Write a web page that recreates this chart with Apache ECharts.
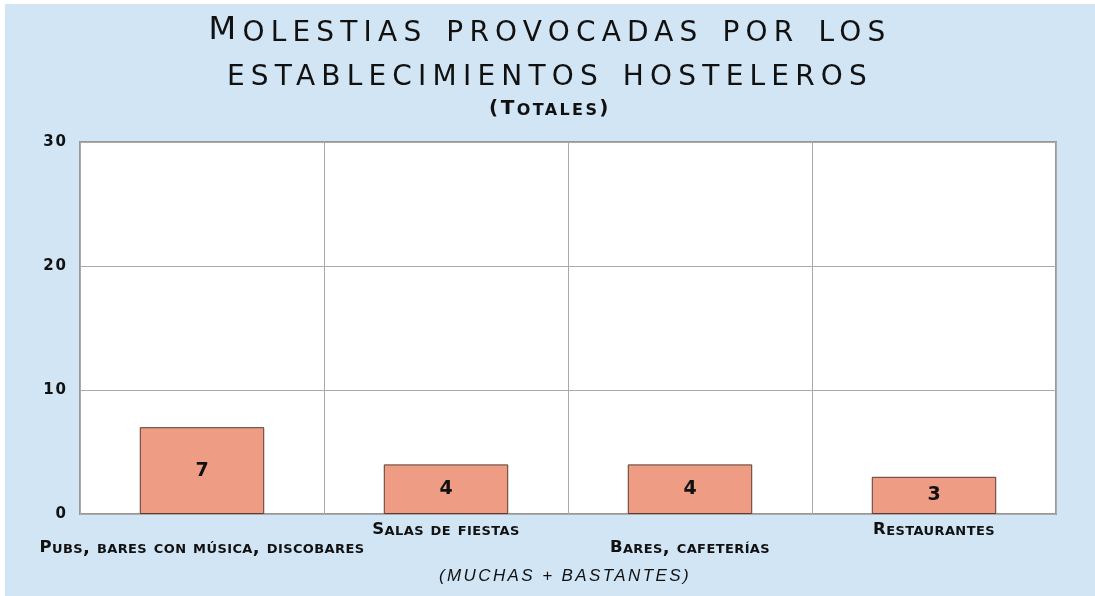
<!DOCTYPE html>
<html><head><meta charset="utf-8">
<script src="https://cdn.jsdelivr.net/npm/echarts@6/dist/echarts.min.js"></script>
<style>
html,body{margin:0;padding:0;background:#fff;}
#c{position:absolute;left:5px;top:4px;width:1090px;height:592px;background:#D2E5F4;}
</style></head><body>
<div id="c"></div>
<script>
var categories = ['Pubs, bares con música, discobares', 'Salas de fiestas', 'Bares, cafeterías', 'Restaurantes'];
var values = [7, 4, 4, 3];
var yTicks = [0, 10, 20, 30];

// Wide lettering (the reference uses a wide engraved small-caps face):
// a family name like "ls6" marks the letter spacing to apply for that text.
(function () {
  var proto = CanvasRenderingContext2D.prototype;
  var desc = Object.getOwnPropertyDescriptor(proto, 'font');
  if (!desc || !('letterSpacing' in proto)) return;
  Object.defineProperty(proto, 'font', {
    configurable: true,
    get: function () { return desc.get.call(this); },
    set: function (v) {
      desc.set.call(this, v);
      var m = /ls(\d+(?:\.\d+)?)/.exec(v);
      this.letterSpacing = m ? m[1] + 'px' : '0px';
    }
  });
})();

function fam(ls, base) { return '"ls' + ls + '", ' + (base || '"DejaVu Sans"'); }
// split a label into its capital initial and small-caps remainder (text unchanged)
function capSplit(s, big, small) {
  return '{' + big + '|' + s.charAt(0) + '}{' + small + '|' + s.slice(1) + '}';
}

var chart = echarts.init(document.getElementById('c'), null, {renderer: 'canvas'});
chart.setOption({
  animation: false,
  backgroundColor: '#D2E5F4',
  title: [
    {text: '{m|M}{s|olestias provocadas por los}\n{s|establecimientos hosteleros}', left: 'center', top: 5, padding: [0, 0, 0, 6],
     textStyle: {color: '#111', lineHeight: 44,
       rich: {
         m: {fontFamily: fam(6.2), fontStyle: 'small-caps', fontWeight: 'normal', fontSize: 32, lineHeight: 44, color: '#111'},
         s: {fontFamily: fam(6.2), fontStyle: 'small-caps', fontWeight: 'normal', fontSize: 40, lineHeight: 44, color: '#111'}
       }}},
    {text: '{c|(T}{s|otales}{c|)}', left: 'center', top: 94, padding: [0, 0, 0, 2],
     textStyle: {color: '#111', lineHeight: 22,
       rich: {
         c: {fontFamily: fam(2.4), fontStyle: 'small-caps', fontWeight: 'bold', fontSize: 20, lineHeight: 22, color: '#111'},
         s: {fontFamily: fam(2.4), fontStyle: 'small-caps', fontWeight: 'bold', fontSize: 23, lineHeight: 22, color: '#111'}
       }}},
    {text: '(MUCHAS + BASTANTES)', left: 560, top: 562, textAlign: 'center', padding: 0,
     textStyle: {fontFamily: fam(2.4, '"Liberation Sans"'), fontStyle: 'italic', fontWeight: 'normal', fontSize: 17, lineHeight: 20, color: '#111'}}
  ],
  grid: {left: 75, right: 39, top: 138, bottom: 82, show: true, backgroundColor: '#fff', borderColor: '#999', borderWidth: 2},
  xAxis: {
    type: 'category', data: categories,
    axisLine: {show: false}, axisTick: {show: false},
    splitLine: {show: true, lineStyle: {color: '#aaa', width: 1}},
    axisLabel: {
      interval: 0, margin: 7, color: '#111', lineHeight: 18, fontSize: 16,
      formatter: function (v, i) { return (i % 2 === 0 ? '\n' : '') + capSplit(v, 'c', 's'); },
      rich: {
        c: {fontFamily: fam(0.4), fontStyle: 'small-caps', fontWeight: 'bold', fontSize: 16.5, lineHeight: 18, color: '#111'},
        s: {fontFamily: fam(0.4), fontStyle: 'small-caps', fontWeight: 'bold', fontSize: 18, lineHeight: 18, color: '#111'}
      }
    }
  },
  yAxis: {
    type: 'value', min: yTicks[0], max: yTicks[yTicks.length - 1], interval: 10,
    axisLine: {show: false}, axisTick: {show: false},
    splitLine: {show: true, lineStyle: {color: '#aaa', width: 1}},
    axisLabel: {margin: 12, color: '#111', fontFamily: fam(2), fontWeight: 'bold', fontSize: 15}
  },
  series: [{
    type: 'bar', data: values, barWidth: '51%',
    itemStyle: {color: '#EE9C84', borderColor: '#5a3a32', borderWidth: 1},
    label: {show: true, position: 'inside', color: '#111', fontFamily: '"DejaVu Sans"', fontWeight: 'bold', fontSize: 19}
  }]
});
</script></body></html>
